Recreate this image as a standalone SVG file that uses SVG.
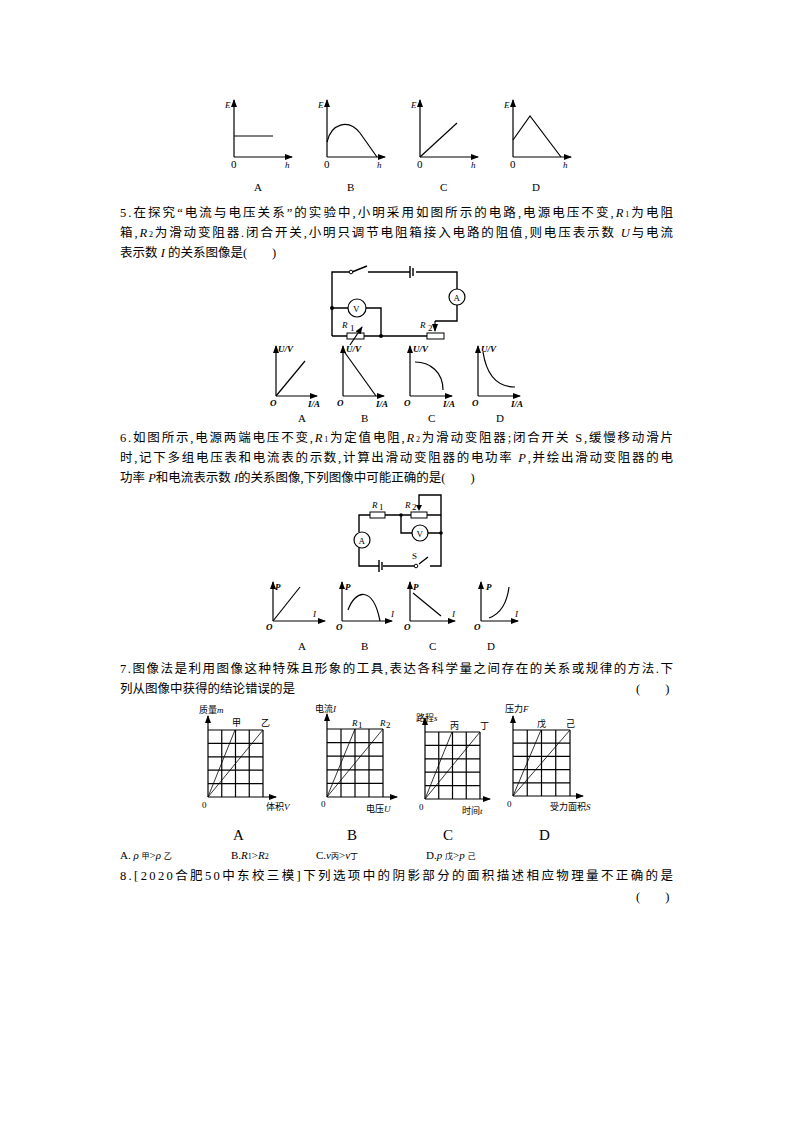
<svg xmlns="http://www.w3.org/2000/svg" width="794" height="1123" viewBox="0 0 794 1123">
<defs>
<marker id="ar" viewBox="0 0 8 6" refX="7" refY="3" markerWidth="8" markerHeight="6" orient="auto" markerUnits="userSpaceOnUse"><path d="M0,0L8,3L0,6z" fill="#000"/></marker>
</defs>
<style>
text{font-family:"Liberation Serif","Noto Sans CJK SC",serif;fill:#000}
.t{font-size:12.5px}
.s{font-size:9px;font-style:italic}
.sb{font-size:9px;font-style:italic;font-weight:bold}
.l{font-size:11px}
.L{font-size:15px}
.c{font-size:9px}
.ax{stroke:#000;stroke-width:1.2;fill:none;marker-end:url(#ar)}
.ln{stroke:#000;stroke-width:1.2;fill:none}
.w{stroke:#000;stroke-width:1.4;fill:none}
.g{stroke:#000;stroke-width:1.2;fill:none}
.th{stroke:#000;stroke-width:0.8;fill:none}
</style>
<rect width="794" height="1123" fill="#fff"/>

<g id="q4graphs">
<g id="E-A"><path class="ax" d="M234,157V100"/><path class="ax" d="M234,157H292"/><path class="ln" d="M234,136H273"/><text class="s" x="225" y="108">E</text><text class="l" x="231" y="168">0</text><text class="s" x="285" y="168">h</text><text class="l" x="254" y="191">A</text></g>
<g id="E-B"><path class="ax" d="M327,157V100"/><path class="ax" d="M327,157H385"/><path class="ln" d="M327,142C331,124 348,118 360,133L377,157"/><text class="s" x="318" y="108">E</text><text class="l" x="324" y="168">0</text><text class="s" x="377" y="168">h</text><text class="l" x="347" y="191">B</text></g>
<g id="E-C"><path class="ax" d="M420,157V100"/><path class="ax" d="M420,157H478"/><path class="ln" d="M420,157L457,123"/><text class="s" x="411" y="108">E</text><text class="l" x="417" y="168">0</text><text class="s" x="471" y="168">h</text><text class="l" x="440" y="191">C</text></g>
<g id="E-D"><path class="ax" d="M513,157V100"/><path class="ax" d="M513,157H571"/><path class="ln" d="M513,140L530,116L561,157"/><text class="s" x="504" y="108">E</text><text class="l" x="510" y="168">0</text><text class="s" x="563" y="168">h</text><text class="l" x="532" y="191">D</text></g>
</g>

<text class="t" x="120" y="217" textLength="553">5.在探究“电流与电压关系”的实验中,小明采用如图所示的电路,电源电压不变,<tspan font-style="italic">R</tspan><tspan font-size="8">1</tspan>为电阻</text>
<text class="t" x="120" y="237" textLength="553">箱,<tspan font-style="italic">R</tspan><tspan font-size="8">2</tspan>为滑动变阻器.闭合开关,小明只调节电阻箱接入电路的阻值,则电压表示数 <tspan font-style="italic">U</tspan>与电流</text>
<text class="t" x="120" y="257">表示数 <tspan font-style="italic">I</tspan> 的关系图像是(　　)</text>

<g id="circuit5">
<path class="w" d="M332,336V272H350M367,266L352,272M368,272H410M416,272H457V289M457,305V321H435"/>
<path class="w" d="M410,266V278M413,268V276" stroke-width="1.6"/>
<circle cx="351" cy="272" r="1.8" fill="#fff" stroke="#000"/>
<path class="w" d="M332,308H348M366,308H381V336M332,336H347M364,336H427M444,336"/>
<path class="ax" d="M435,321V331" stroke-width="1.4"/>
<circle cx="332" cy="308" r="2" fill="#000"/><circle cx="381" cy="336" r="2" fill="#000"/>
<circle cx="457" cy="297" r="8" fill="#fff" stroke="#000" stroke-width="1.2"/><text class="c" x="453.5" y="300.5">A</text>
<circle cx="357" cy="308" r="9" fill="#fff" stroke="#000" stroke-width="1.2"/><text class="c" x="353" y="311.5">V</text>
<rect x="347" y="333" width="17" height="6" fill="#fff" stroke="#000"/>
<path class="ax" d="M350,345L362,327" stroke-width="1"/>
<rect x="427" y="333" width="17" height="6" fill="#fff" stroke="#000"/>
<text class="s" x="342" y="328" font-size="11">R</text><text class="c" x="350" y="331">1</text>
<text class="s" x="420" y="328" font-size="11">R</text><text class="c" x="428" y="331">2</text>
</g>

<g id="q5graphs">
<g id="UI-A"><path class="ax" d="M276,396V346"/><path class="ax" d="M276,396H317"/><path class="ln" d="M276,396L305,361"/><text class="sb" x="278" y="352">U/V</text><text class="sb" x="270" y="406">O</text><text class="sb" x="308" y="407">I/A</text><text class="l" x="298" y="422">A</text></g>
<g id="UI-B"><path class="ax" d="M343,396V346"/><path class="ax" d="M343,396H384"/><path class="ln" d="M343,350L376,396"/><text class="sb" x="346" y="352">U/V</text><text class="sb" x="337" y="406">O</text><text class="sb" x="376" y="407">I/A</text><text class="l" x="361" y="422">B</text></g>
<g id="UI-C"><path class="ax" d="M410,396V346"/><path class="ax" d="M410,396H452"/><path class="ln" d="M415,362C430,362 443,372 443,390"/><text class="sb" x="413" y="352">U/V</text><text class="sb" x="404" y="406">O</text><text class="sb" x="443" y="407">I/A</text><text class="l" x="428" y="422">C</text></g>
<g id="UI-D"><path class="ax" d="M478,396V346"/><path class="ax" d="M478,396H520"/><path class="ln" d="M483,352C487,378 500,387 515,387"/><text class="sb" x="481" y="352">U/V</text><text class="sb" x="472" y="406">O</text><text class="sb" x="511" y="407">I/A</text><text class="l" x="496" y="422">D</text></g>
</g>

<text class="t" x="120" y="442" textLength="553">6.如图所示,电源两端电压不变,<tspan font-style="italic">R</tspan><tspan font-size="8">1</tspan>为定值电阻,<tspan font-style="italic">R</tspan><tspan font-size="8">2</tspan>为滑动变阻器;闭合开关 S,缓慢移动滑片</text>
<text class="t" x="120" y="462" textLength="553">时,记下多组电压表和电流表的示数,计算出滑动变阻器的电功率 <tspan font-style="italic">P</tspan>,并绘出滑动变阻器的电</text>
<text class="t" x="120" y="482">功率 <tspan font-style="italic">P</tspan>和电流表示数 <tspan font-style="italic">I</tspan>的关系图像,下列图像中可能正确的是(　　)</text>

<g id="circuit6">
<path class="w" d="M359,532V515H370M385,515H411M427,515H441"/>
<path class="w" d="M359,548V566H379M383,566H414M419,564L428,557M430,566H441V495H419V505"/>
<path class="w" d="M379,560V572M382,562V570" stroke-width="1.6"/>
<circle cx="416" cy="566" r="1.8" fill="#fff" stroke="#000"/>
<path class="w" d="M401,515V533H412M428,533H441"/>
<path d="M416,505L422,505L419,511z" fill="#000"/>
<circle cx="401" cy="515" r="1.8" fill="#000"/><circle cx="441" cy="533" r="1.8" fill="#000"/>
<rect x="370" y="512" width="15" height="6" fill="#fff" stroke="#000"/>
<rect x="411" y="512" width="16" height="6" fill="#fff" stroke="#000"/>
<circle cx="362" cy="540" r="8" fill="#fff" stroke="#000" stroke-width="1.2"/><text class="c" x="358.5" y="543.5">A</text>
<circle cx="420" cy="533" r="8" fill="#fff" stroke="#000" stroke-width="1.2"/><text class="c" x="416.5" y="536.5">V</text>
<text class="s" x="372" y="508" font-size="10">R</text><text class="c" x="379" y="510" font-size="7">1</text>
<text class="s" x="405" y="508" font-size="10">R</text><text class="c" x="412" y="510" font-size="7">2</text>
<text class="c" x="412" y="559">S</text>
</g>

<g id="q6graphs">
<g id="PI-A"><path class="ax" d="M273,621V582"/><path class="ax" d="M273,621H325"/><path class="ln" d="M273,621L300,587"/><text class="sb" x="275" y="590">P</text><text class="sb" x="266" y="630">O</text><text class="s" x="313" y="617">I</text><text class="l" x="298" y="650">A</text></g>
<g id="PI-B"><path class="ax" d="M342,621V582"/><path class="ax" d="M342,621H392"/><path class="ln" d="M348,610C355,590 373,585 380,621"/><text class="sb" x="345" y="590">P</text><text class="sb" x="336" y="630">O</text><text class="s" x="391" y="617">I</text><text class="l" x="361" y="650">B</text></g>
<g id="PI-C"><path class="ax" d="M410,621V582"/><path class="ax" d="M410,621H455"/><path class="ln" d="M413,593L441,616"/><text class="sb" x="413" y="590">P</text><text class="sb" x="404" y="630">O</text><text class="s" x="452" y="617">I</text><text class="l" x="429" y="650">C</text></g>
<g id="PI-D"><path class="ax" d="M481,621V582"/><path class="ax" d="M481,621H518"/><path class="ln" d="M489,618C500,614 507,603 509,587"/><text class="sb" x="486" y="590">P</text><text class="sb" x="474" y="630">O</text><text class="s" x="515" y="617">I</text><text class="l" x="487" y="650">D</text></g>
</g>

<text class="t" x="120" y="673" textLength="553">7.图像法是利用图像这种特殊且形象的工具,表达各科学量之间存在的关系或规律的方法.下</text>
<text class="t" x="120" y="693">列从图像中获得的结论错误的是</text>
<text class="t" x="636" y="693">(　　)</text>

<g id="q7graphs">
<g id="G-A">
<path class="g" d="M208,730H263M208,743.4H263M208,756.8H263M208,770.2H263M208,783.6H263M221.75,730V797M235.5,730V797M249.25,730V797M263,730V797"/>
<path class="ax" d="M208,797V716"/><path class="ax" d="M208,797H276"/>
<path class="th" d="M208,797L235,730M208,797L263,730"/>
<text class="c" x="199" y="713">质量<tspan font-style="italic">m</tspan></text><text class="c" x="232" y="726">甲</text><text class="c" x="261" y="726">乙</text><text class="c" x="202" y="808">0</text><text class="c" x="266" y="810">体积<tspan font-style="italic">V</tspan></text>
<text class="L" x="233" y="840">A</text>
</g>
<g id="G-B">
<path class="g" d="M327,729H383M327,742.6H383M327,756.2H383M327,769.8H383M327,783.4H383M341,729V797M355,729V797M369,729V797M383,729V797"/>
<path class="ax" d="M327,797V714"/><path class="ax" d="M327,797H397"/>
<path class="th" d="M327,797L355,729M327,797L383,729"/>
<text class="c" x="315" y="712">电流<tspan font-style="italic">I</tspan></text><text class="s" x="352" y="726">R</text><text class="c" x="358" y="728" font-size="6">1</text><text class="s" x="380" y="726">R</text><text class="c" x="386" y="728" font-size="6">2</text><text class="c" x="321" y="807">0</text><text class="c" x="366" y="812">电压<tspan font-style="italic">U</tspan></text>
<text class="L" x="347" y="840">B</text>
</g>
<g id="G-C">
<path class="g" d="M425,732H480M425,745.4H480M425,758.8H480M425,772.2H480M425,785.6H480M438.75,732V799M452.5,732V799M466.25,732V799M480,732V799"/>
<path class="ax" d="M425,799V718"/><path class="ax" d="M425,799H490"/>
<path class="th" d="M425,799L452,732M425,799L480,732"/>
<text class="c" x="416" y="721">路程<tspan font-style="italic">s</tspan></text><text class="c" x="450" y="729">丙</text><text class="c" x="480" y="729">丁</text><text class="c" x="419" y="810">0</text><text class="c" x="462" y="814">时间<tspan font-style="italic">t</tspan></text>
<text class="L" x="443" y="840">C</text>
</g>
<g id="G-D">
<path class="g" d="M513,730H570M513,743.2H570M513,756.4H570M513,769.6H570M513,782.8H570M527.25,730V796M541.5,730V796M555.75,730V796M570,730V796"/>
<path class="ax" d="M513,796V716"/><path class="ax" d="M513,796H583"/>
<path class="th" d="M513,796L541,730M513,796L570,730"/>
<text class="c" x="505" y="712">压力<tspan font-style="italic">F</tspan></text><text class="c" x="537" y="727">戊</text><text class="c" x="566" y="727">己</text><text class="c" x="507" y="807">0</text><text class="c" x="550" y="810">受力面积<tspan font-style="italic">S</tspan></text>
<text class="L" x="539" y="840">D</text>
</g>
</g>

<text class="l" x="120" y="859">A. <tspan font-style="italic">ρ</tspan> <tspan font-size="8">甲</tspan>&gt;<tspan font-style="italic">ρ</tspan> <tspan font-size="8">乙</tspan></text>
<text class="l" x="231" y="859">B.<tspan font-style="italic">R</tspan><tspan font-size="8">1</tspan>&gt;<tspan font-style="italic">R</tspan><tspan font-size="8">2</tspan></text>
<text class="l" x="316" y="859">C.<tspan font-style="italic">v</tspan><tspan font-size="8">丙</tspan>&gt;<tspan font-style="italic">v</tspan><tspan font-size="8">丁</tspan></text>
<text class="l" x="426" y="859">D.<tspan font-style="italic">p</tspan> <tspan font-size="8">戊</tspan>&gt;<tspan font-style="italic">p</tspan> <tspan font-size="8">己</tspan></text>

<text class="t" x="120" y="880" textLength="553">8.[2020合肥50中东校三模]下列选项中的阴影部分的面积描述相应物理量不正确的是</text>
<text class="t" x="636" y="901">(　　)</text>
</svg>
